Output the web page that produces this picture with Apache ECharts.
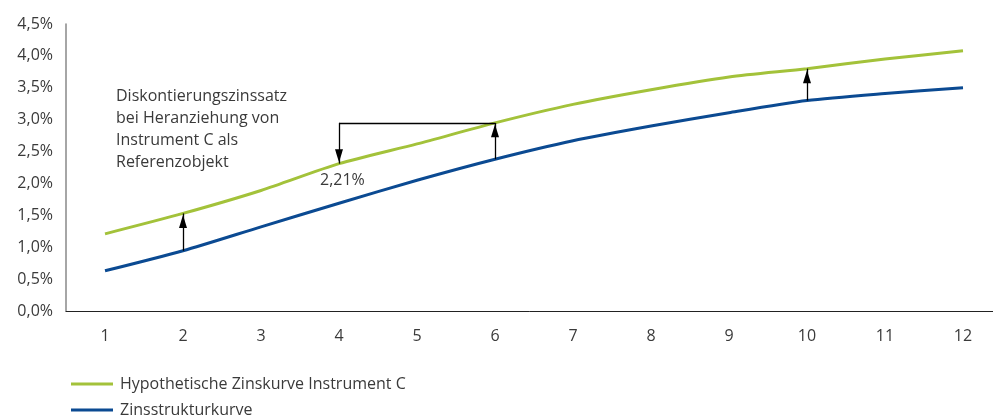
<!DOCTYPE html>
<html><head><meta charset="utf-8">
<script src="https://cdn.jsdelivr.net/npm/echarts@6/dist/echarts.min.js"></script>
<style>html,body{margin:0;padding:0;background:#fff}#c{width:993px;height:420px}</style>
</head><body><div id="c"></div>
<script>
const categories = ['1','2','3','4','5','6','7','8','9','10','11','12'];
const hypothetisch = [1.21, 1.53, 1.89, 2.31, 2.62, 2.95, 3.24, 3.47, 3.67, 3.80, 3.95, 4.08];
const zinsstruktur = [0.63, 0.945, 1.32, 1.69, 2.05, 2.38, 2.67, 2.90, 3.11, 3.30, 3.41, 3.50];
const yTicks = [0, 0.5, 1, 1.5, 2, 2.5, 3, 3.5, 4, 4.5];
const arrowAt = ['2', '6', '10'];
const seriesNames = ['Hypothetische Zinskurve Instrument C', 'Zinsstrukturkurve'];
const noteText = 'Diskontierungszinssatz\nbei Heranziehung von\nInstrument C als\nReferenzobjekt';
const rateText = '2,21%';

const FONT = 'Open Sans';
const GREEN = '#a3c23a';
const BLUE = '#0b4a92';
const TXT = '#3a3a3a';

const idx = c => categories.indexOf(c);
const head = { symbol: 'triangle', symbolSize: [8, 13], symbolOffset: [0, 8] };
const arrowLines = arrowAt.map(c => [
  { coord: [c, zinsstruktur[idx(c)]], symbol: 'none' },
  Object.assign({ coord: [c, hypothetisch[idx(c)]] }, head)
]);
const bracket = [
  [{ coord: ['6', hypothetisch[idx('6')]], symbol: 'none' }, { coord: ['4', hypothetisch[idx('6')]], symbol: 'none' }],
  [{ coord: ['4', hypothetisch[idx('6')]], symbol: 'none' }, Object.assign({ coord: ['4', hypothetisch[idx('4')]] }, head)]
];

const chart = echarts.init(document.getElementById('c'));
chart.setOption({
  animation: false,
  textStyle: { fontFamily: FONT },
  grid: { left: 66, top: 24, right: -9, bottom: 109, outerBoundsMode: 'none', containLabel: false },
  xAxis: {
    type: 'category', data: categories, boundaryGap: true,
    axisLine: { lineStyle: { color: '#222', width: 1 } },
    axisTick: { show: false },
    axisLabel: { color: TXT, fontSize: 16, fontFamily: FONT, margin: 17 }
  },
  yAxis: {
    type: 'value', min: yTicks[0], max: yTicks[yTicks.length - 1], interval: 0.5,
    axisLine: { show: true, lineStyle: { color: '#888', width: 1.5 } },
    axisTick: { show: false },
    splitLine: { show: false },
    axisLabel: { color: TXT, fontSize: 16, fontFamily: FONT, margin: 13,
      formatter: v => v.toFixed(1).replace('.', ',') + '%' }
  },
  legend: {
    orient: 'vertical', left: 66, top: 370, height: 60, itemGap: 8,
    icon: 'rect', itemWidth: 42, itemHeight: 3,
    textStyle: { color: TXT, fontSize: 16, fontFamily: FONT, lineHeight: 18, padding: [0, 0, 0, 2] },
    data: seriesNames
  },
  series: [
    {
      name: seriesNames[0], type: 'line', data: hypothetisch, smooth: 0.25,
      symbol: 'none', lineStyle: { color: GREEN, width: 3 }, itemStyle: { color: GREEN },
      z: 3,
      markLine: {
        silent: true, symbol: ['none', 'triangle'], symbolSize: 10,
        label: { show: false },
        lineStyle: { color: '#000', width: 1.3, type: 'solid' },
        emphasis: { disabled: true },
        data: arrowLines.concat(bracket)
      }
    },
    {
      name: seriesNames[1], type: 'line', data: zinsstruktur, smooth: 0.25,
      symbol: 'none', lineStyle: { color: BLUE, width: 3 }, itemStyle: { color: BLUE },
      z: 3
    }
  ],
  graphic: [
    { type: 'text', left: 116, top: 86,
      style: { text: noteText, fontSize: 16, fontFamily: FONT, fill: TXT, lineHeight: 21.7 } },
    { type: 'text', left: 320, top: 172,
      style: { text: rateText, fontSize: 16, fontFamily: FONT, fill: TXT } }
  ]
});
</script></body></html>
